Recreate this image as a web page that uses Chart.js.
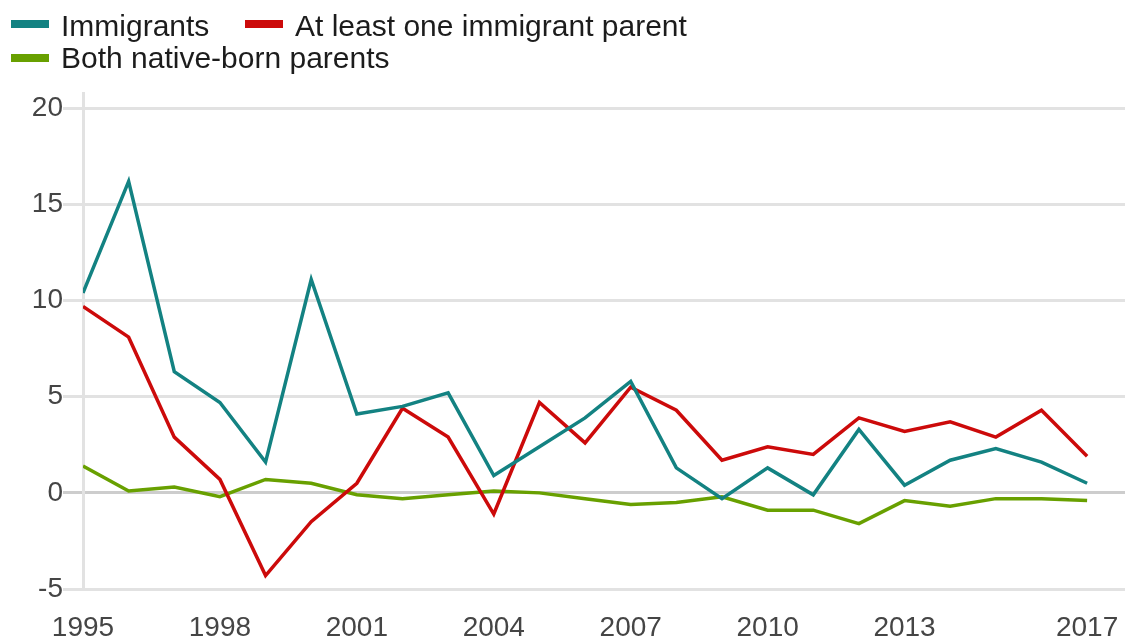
<!DOCTYPE html>
<html>
<head>
<meta charset="utf-8">
<script src="https://cdn.jsdelivr.net/npm/chart.js@4"></script>
<style>
  html, body { margin: 0; padding: 0; background: #ffffff; }
  #wrap { position: relative; width: 1125px; height: 641px; overflow: hidden; }
  #chart { position: absolute; left: 0; top: 0; }
  .key { position: absolute; font-family: "Liberation Sans", Arial, sans-serif; font-size: 30px; line-height: 34px; color: #1c1c1c; white-space: nowrap; }
  .sw { position: absolute; width: 38px; height: 8px; }
</style>
</head>
<body>
<div id="wrap">
  <canvas id="chart" width="1125" height="641"></canvas>
  <div class="sw" style="left:11px;top:20px;background:#138282"></div>
  <div class="key" style="left:61px;top:9px">Immigrants</div>
  <div class="sw" style="left:245px;top:20px;background:#cc0a0a"></div>
  <div class="key" style="left:295px;top:9px">At least one immigrant parent</div>
  <div class="sw" style="left:11px;top:54px;background:#68a000"></div>
  <div class="key" style="left:61px;top:41px">Both native-born parents</div>
</div>
<script>
// Years covered by the series
const years = [1995, 1996, 1997, 1998, 1999, 2000, 2001, 2002, 2003, 2004, 2005, 2006,
               2007, 2008, 2009, 2010, 2011, 2012, 2013, 2014, 2015, 2016, 2017];

// Series values (per cent)
const immigrants = [10.4, 16.2, 6.3, 4.7, 1.6, 11.1, 4.1, 4.5, 5.2, 0.9, 2.4, 3.9,
                    5.8, 1.3, -0.3, 1.3, -0.1, 3.3, 0.4, 1.7, 2.3, 1.6, 0.5];
const oneImmigrantParent = [9.7, 8.1, 2.9, 0.7, -4.3, -1.5, 0.5, 4.4, 2.9, -1.1, 4.7, 2.6,
                            5.5, 4.3, 1.7, 2.4, 2.0, 3.9, 3.2, 3.7, 2.9, 4.3, 1.9];
const nativeBornParents = [1.4, 0.1, 0.3, -0.2, 0.7, 0.5, -0.1, -0.3, -0.1, 0.1, 0.0, -0.3,
                           -0.6, -0.5, -0.2, -0.9, -0.9, -1.6, -0.4, -0.7, -0.3, -0.3, -0.4];

// Axis tick labels
const xTicks = [1995, 1998, 2001, 2004, 2007, 2010, 2013, 2017];
const yTicks = [-5, 0, 5, 10, 15, 20];

const toPoints = vals => years.map((yr, i) => ({ x: yr, y: vals[i] }));

const series = [
  { label: 'Immigrants', values: immigrants, color: '#138282' },
  { label: 'At least one immigrant parent', values: oneImmigrantParent, color: '#cc0a0a' },
  { label: 'Both native-born parents', values: nativeBornParents, color: '#68a000' }
];

const tickFont = { family: '"Liberation Sans", Arial, sans-serif', size: 28 };

new Chart(document.getElementById('chart'), {
  type: 'line',
  data: {
    datasets: series.map(s => ({
      label: s.label,
      data: toPoints(s.values),
      borderColor: s.color,
      backgroundColor: s.color,
      borderWidth: 3.5,
      pointRadius: 0,
      tension: 0,
      fill: false
    }))
  },
  options: {
    responsive: false,
    animation: false,
    events: [],
    layout: { padding: { top: 93, left: 0, right: 0, bottom: 0 } },
    plugins: {
      legend: { display: false },
      tooltip: { enabled: false }
    },
    scales: {
      x: {
        type: 'linear',
        min: 1995,
        max: 2017.83,
        afterBuildTicks: scale => { scale.ticks = xTicks.map(v => ({ value: v })); },
        afterFit: scale => {
          scale.height = 52;
          scale.paddingLeft = 0;
          scale.paddingRight = 0;
        },
        grid: { display: false, drawTicks: false },
        border: { display: false },
        ticks: {
          font: tickFont,
          color: '#454545',
          padding: 22,
          maxRotation: 0,
          autoSkip: false,
          callback: v => String(v)
        }
      },
      y: {
        min: -5,
        max: 20.8,
        afterBuildTicks: scale => { scale.ticks = yTicks.map(v => ({ value: v })); },
        afterFit: scale => {
          scale.width = 83;
          scale.paddingTop = 0;
          scale.paddingBottom = 0;
        },
        grid: {
          color: ctx => (ctx.tick && ctx.tick.value === 0 ? '#cdcdcd' : '#e2e2e2'),
          lineWidth: 3,
          drawTicks: true,
          tickLength: 20
        },
        border: { display: true, color: '#e2e2e2', width: 3 },
        ticks: {
          font: tickFont,
          color: '#454545',
          padding: 0,
          callback: v => String(v)
        }
      }
    }
  }
});
</script>
</body>
</html>
